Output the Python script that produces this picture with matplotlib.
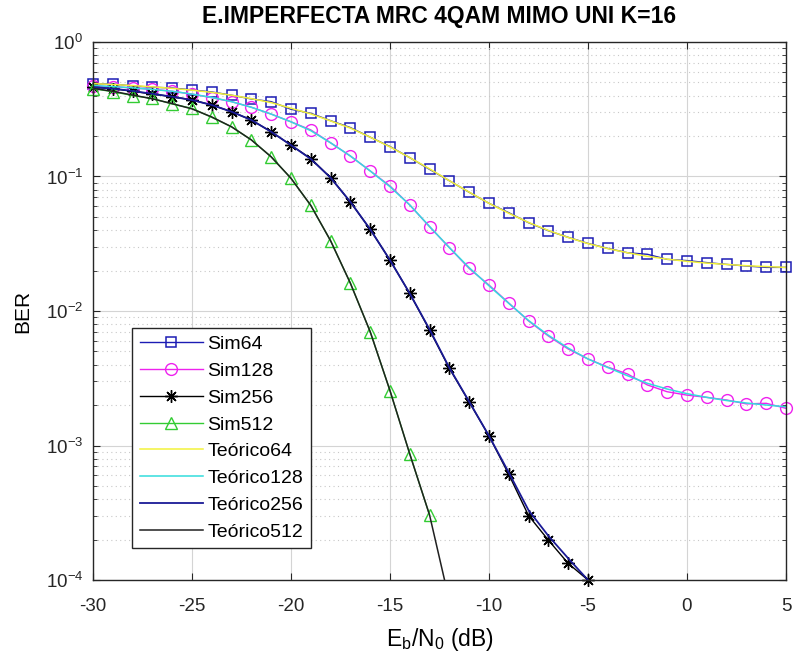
import numpy as np
import matplotlib
matplotlib.use('Agg')
import matplotlib.pyplot as plt
from matplotlib.ticker import LogLocator, NullFormatter, MultipleLocator

plt.rcParams['font.family'] = ['Liberation Sans', 'DejaVu Sans']
plt.rcParams['mathtext.fontset'] = 'custom'
plt.rcParams['mathtext.rm'] = 'Liberation Sans'
plt.rcParams['mathtext.it'] = 'Liberation Sans:italic'
plt.rcParams['mathtext.default'] = 'regular'
plt.rcParams['axes.unicode_minus'] = False

nan = np.nan
ebno = list(range(-30, 6))

sim64 = [0.487, 0.487, 0.471, 0.461, 0.455, 0.440, 0.425, 0.402, 0.377, 0.360,
         0.316, 0.295, 0.260, 0.231, 0.196, 0.167, 0.138, 0.113, 0.093, 0.0763,
         0.0632, 0.0538, 0.0453, 0.0395, 0.0353, 0.0318, 0.0292, 0.0271, 0.0264, 0.0242,
         0.0237, 0.0229, 0.0222, 0.0216, 0.0211, 0.0211]
sim128 = [0.47, 0.465, 0.455, 0.445, 0.43, 0.41, 0.385, 0.36, 0.327, 0.291,
          0.255, 0.222, 0.178, 0.142, 0.110, 0.085, 0.0614, 0.0423, 0.0296, 0.0207,
          0.0156, 0.01146, 0.00843, 0.00652, 0.00522, 0.00440, 0.00383, 0.00340, 0.00282, 0.00251,
          0.00237, 0.00228, 0.00218, 0.00204, 0.00206, 0.00189]
sim256 = [0.46, 0.45, 0.43, 0.41, 0.392, 0.371, 0.340, 0.303, 0.263, 0.215,
          0.171, 0.136, 0.098, 0.0646, 0.0405, 0.0239, 0.0135, 0.00722, 0.00375, 0.00211,
          0.00118, 0.00061, 0.000301, 0.000198, 0.000133, 0.0001, nan, nan, nan, nan,
          nan, nan, nan, nan, nan, nan]
sim512 = [0.45, 0.427, 0.40, 0.38, 0.346, 0.321, 0.275, 0.234, 0.187, 0.140,
          0.097, 0.0609, 0.0333, 0.0161, 0.00702, 0.00256, 0.000865, 0.000304, nan, nan,
          nan, nan, nan, nan, nan, nan, nan, nan, nan, nan,
          nan, nan, nan, nan, nan, nan]

teo64 = [0.49, 0.483, 0.474, 0.464, 0.452, 0.438, 0.422, 0.402, 0.379, 0.354,
         0.322, 0.292, 0.259, 0.229, 0.196, 0.166, 0.138, 0.114, 0.093, 0.0765,
         0.0632, 0.0533, 0.0455, 0.0397, 0.0352, 0.0317, 0.0291, 0.0271, 0.0255, 0.0243,
         0.0234, 0.0227, 0.0222, 0.0217, 0.0214, 0.0211]
teo128 = [0.475, 0.466, 0.456, 0.444, 0.43, 0.41, 0.387, 0.36, 0.327, 0.291,
          0.255, 0.219, 0.178, 0.142, 0.110, 0.084, 0.0614, 0.0425, 0.0296, 0.0210,
          0.0154, 0.0114, 0.0085, 0.0066, 0.0053, 0.0044, 0.0038, 0.0033, 0.0029, 0.00263,
          0.00243, 0.00228, 0.00216, 0.00207, 0.00200, 0.00194]
teo256 = [0.462, 0.45, 0.432, 0.412, 0.392, 0.37, 0.340, 0.303, 0.263, 0.215,
          0.171, 0.135, 0.098, 0.0648, 0.0405, 0.0239, 0.0135, 0.0073, 0.00378, 0.00212,
          0.00118, 0.00063, 0.00033, 0.000213, 0.000145, 0.0001, 0.00005, nan, nan, nan,
          nan, nan, nan, nan, nan, nan]
teo512 = [0.452, 0.43, 0.403, 0.378, 0.348, 0.318, 0.277, 0.234, 0.187, 0.140,
          0.097, 0.061, 0.0333, 0.0161, 0.00702, 0.00256, 0.000865, 0.000304, 0.00007, nan,
          nan, nan, nan, nan, nan, nan, nan, nan, nan, nan,
          nan, nan, nan, nan, nan, nan]

fig = plt.figure(figsize=(7.96, 6.61), dpi=100)
ax = fig.add_axes([0.1168, 0.1225, 0.8706, 0.814])

# simulated curves (markers), then theory lines on top, as in the original
ax.semilogy(ebno, sim64, '-', color='#1c1cb4', marker='s', ms=7.5, mfc='none', mew=1.1, lw=1, label='Sim64', clip_on=False)
ax.semilogy(ebno, sim128, '-', color='#ee22ee', marker='o', ms=8.5, mfc='none', mew=1.0, lw=1, label='Sim128', clip_on=False)
ax.semilogy(ebno, sim256, '-', color='k', marker=(8, 2, 0), ms=9, mfc='none', mew=1.0, lw=1, label='Sim256', clip_on=False)
ax.semilogy(ebno, sim512, '-', color='#33cc33', marker='^', ms=8.5, mfc='none', mew=1.0, lw=1, label='Sim512', clip_on=False)
ax.semilogy(ebno, teo64, '-', color='#f2f23a', lw=1.1, label='Teórico64')
ax.semilogy(ebno, teo128, '-', color='#33dddd', lw=1.1, label='Teórico128')
ax.semilogy(ebno, teo256, '-', color='#1a1a96', lw=1.3, label='Teórico256')
ax.semilogy(ebno, teo512, '-', color='#202020', lw=1.1, label='Teórico512')

ax.set_xlim(-30, 5)
ax.set_ylim(1e-4, 1)
ax.xaxis.set_major_locator(MultipleLocator(5))
ax.yaxis.set_major_locator(LogLocator(base=10, numticks=10))
ax.yaxis.set_minor_locator(LogLocator(base=10, subs=np.arange(2, 10), numticks=10))
ax.yaxis.set_minor_formatter(NullFormatter())

ax.grid(True, which='major', color='#d4d4d4', lw=0.8)
ax.grid(True, which='minor', axis='y', color='#c8c8c8', lw=0.8, ls=(0, (1, 3)))
ax.set_axisbelow(True)
ax.tick_params(which='both', direction='in', top=True, right=True, labelsize=13.5, colors='#262626')
ax.tick_params(which='major', length=5)
ax.tick_params(which='minor', length=3)
ax.tick_params(axis='x', pad=13)
ax.tick_params(axis='y', pad=7)
for s in ax.spines.values():
    s.set_color('#262626')
    s.set_linewidth(1.0)

ax.set_title('E.IMPERFECTA MRC 4QAM MIMO UNI K=16', fontsize=16.5, fontweight='bold', pad=14)
ax.set_xlabel('E$_b$/N$_0$ (dB)', fontsize=16.5, labelpad=8)
ax.set_ylabel('BER', fontsize=15, labelpad=10)

leg = ax.legend(loc='lower left', bbox_to_anchor=(0.056, 0.059), fontsize=14, frameon=True,
                fancybox=False, edgecolor='#262626', framealpha=1, handlelength=3.25,
                borderpad=0.4, labelspacing=0.47, handletextpad=0.25, borderaxespad=0)
leg.get_frame().set_linewidth(1.0)

fig.savefig('out.png', dpi=100)
